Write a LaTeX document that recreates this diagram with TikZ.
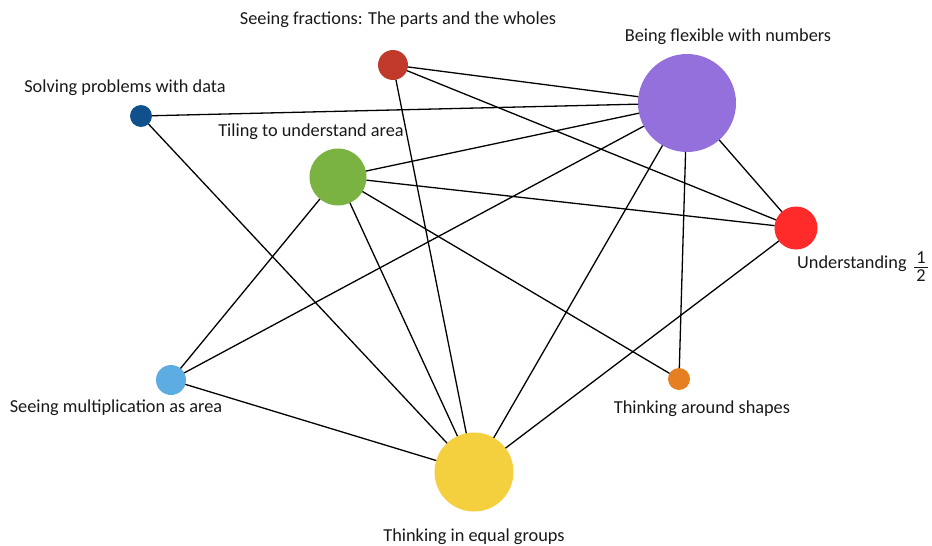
\documentclass[tikz,border=0pt]{standalone}
\usepackage{fontspec}
\setmainfont{Carlito}
\definecolor{cfrac}{RGB}{192,57,43}
\definecolor{cflex}{RGB}{147,112,219}
\definecolor{cdata}{RGB}{16,80,140}
\definecolor{ctile}{RGB}{123,179,66}
\definecolor{cund}{RGB}{255,42,42}
\definecolor{cmult}{RGB}{93,173,226}
\definecolor{cshape}{RGB}{230,126,34}
\definecolor{cgroup}{RGB}{244,208,63}
\begin{document}
\begin{tikzpicture}[x=1pt,y=-1pt,
  dot/.style={circle,inner sep=0pt,outer sep=0pt,draw=none},
  lbl/.style={font=\fontsize{18.3}{21}\selectfont,inner sep=0pt,text=black!90},
  edge/.style={line width=1.3pt,black}]
\useasboundingbox (0,0) rectangle (932,546);
\node[dot,fill=cfrac,minimum size=30pt] (frac) at (393,65) {};
\node[dot,fill=cflex,minimum size=98pt] (flex) at (687,103) {};
\node[dot,fill=cdata,minimum size=22pt] (data) at (141,116) {};
\node[dot,fill=ctile,minimum size=57pt] (tile) at (338,177) {};
\node[dot,fill=cund,minimum size=43pt] (und) at (796,228) {};
\node[dot,fill=cmult,minimum size=30pt] (mult) at (171,380) {};
\node[dot,fill=cshape,minimum size=22pt] (shape) at (679,379) {};
\node[dot,fill=cgroup,minimum size=79pt] (group) at (474,472) {};

\node[lbl] (lfrac) at (398,20) {Seeing fractions: The parts and the wholes};
\node[lbl] (lflex) at (728,37) {Being flexible with numbers};
\node[lbl] (ldata) at (125,88) {Solving problems with data};
\node[lbl] (ltile) at (311,132) {Tiling to understand area};
\node[lbl,anchor=base west] (lund) at (797,268) {Understanding};
\node[lbl,anchor=base,text depth=0pt] (lnum) at (921,263.5) {1};
\node[lbl,anchor=base,text depth=0pt] (lden) at (921,281) {2};
\draw[line width=0.9pt,black!90] (914,267) -- (928,267);
\node[lbl] (lmult) at (116,408) {Seeing multiplication as area};
\node[lbl] (lshape) at (702,409) {Thinking around shapes};
\node[lbl] (lgroup) at (474,537) {Thinking in equal groups};

\draw[edge] (frac) -- (flex);
\draw[edge] (frac) -- (und);
\draw[edge] (frac) -- (group);
\draw[edge] (data) -- (flex);
\draw[edge] (data) -- (group);
\draw[edge] (tile) -- (flex);
\draw[edge] (tile) -- (und);
\draw[edge] (tile) -- (shape);
\draw[edge] (tile) -- (group);
\draw[edge] (tile) -- (mult);
\draw[edge] (flex) -- (mult);
\draw[edge] (flex) -- (group);
\draw[edge] (flex) -- (shape);
\draw[edge] (flex) -- (und);
\draw[edge] (und) -- (group);
\draw[edge] (mult) -- (group);
\end{tikzpicture}
\end{document}
